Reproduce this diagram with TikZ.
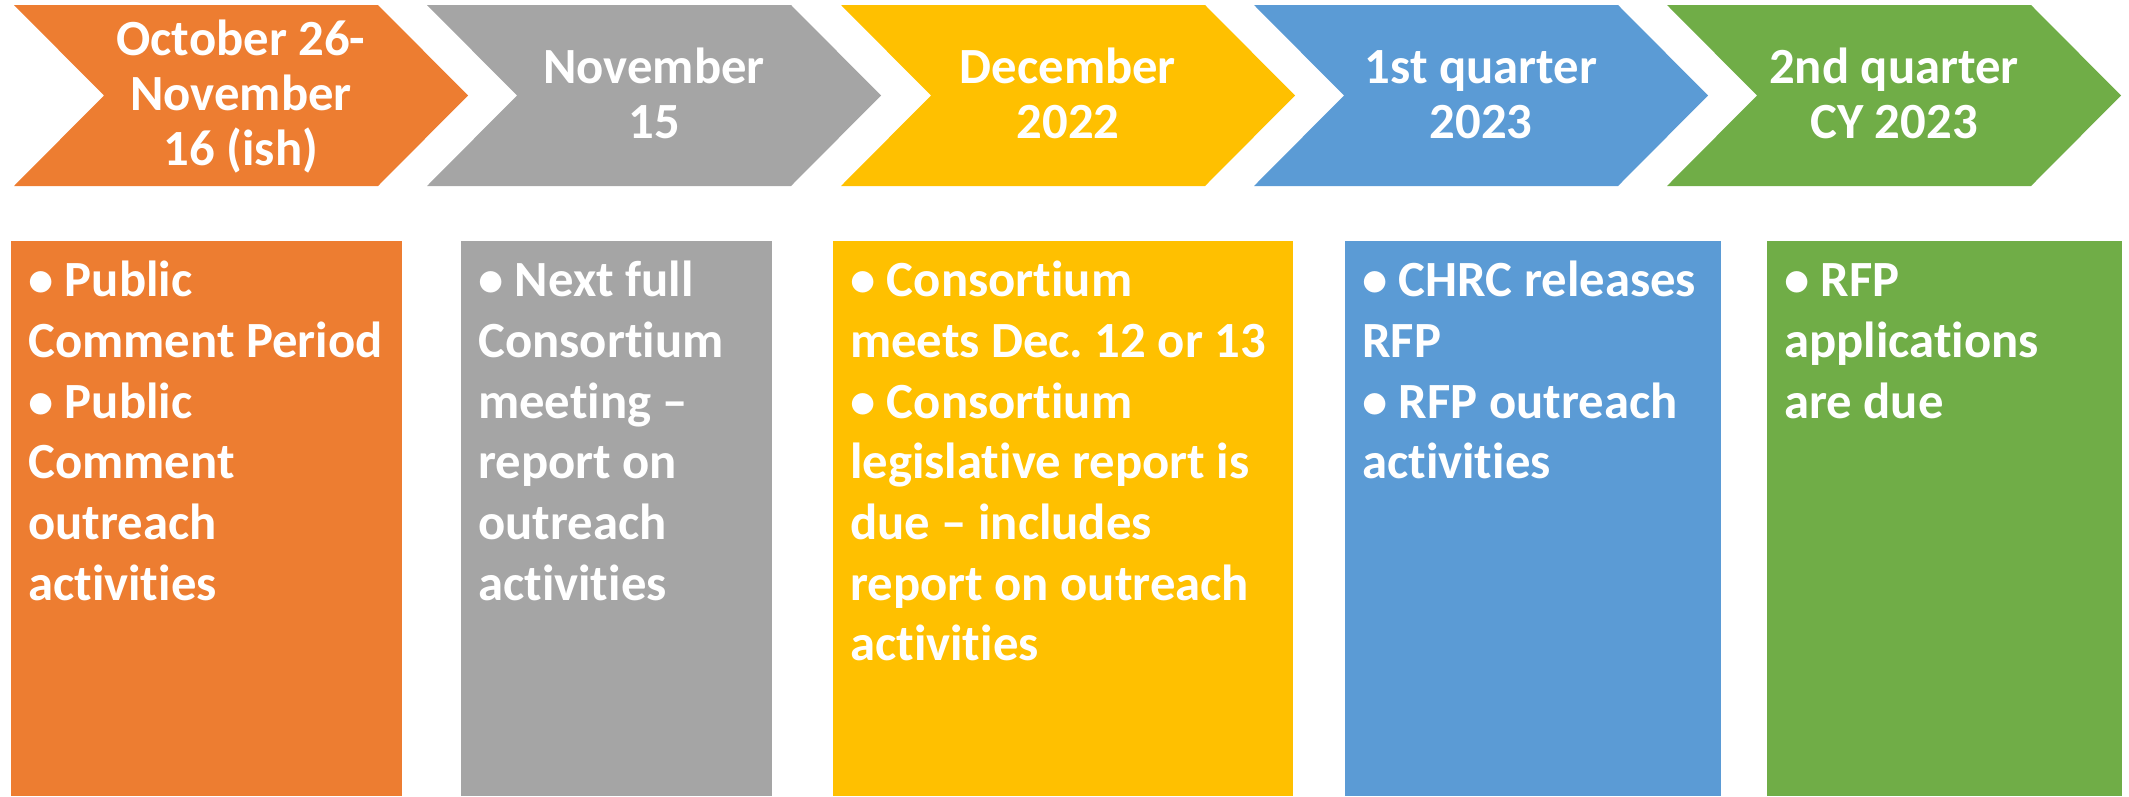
\documentclass[tikz,border=0pt]{standalone}
\usepackage{fontspec}
\setmainfont[RawFeature={-liga;-dlig;-clig}]{Carlito}
\definecolor{corange}{HTML}{ED7D31}
\definecolor{cgray}{HTML}{A5A5A5}
\definecolor{cyellow}{HTML}{FFC000}
\definecolor{cblue}{HTML}{5B9BD5}
\definecolor{cgreen}{HTML}{70AD47}
\newcommand\mychevron[2]{%
  \fill[#2] (#1,5) -- ++(364,0) -- ++(90,90.5) -- ++(-90,90.5) -- ++(-364,0) -- ++(90,-90.5) -- cycle;}
\frenchspacing
\begin{document}
\begin{tikzpicture}[x=1pt,y=-1pt,
  hdr/.style={anchor=base, inner sep=0pt, text=white, font=\fontsize{50.7}{55}\selectfont\bfseries},
  bodytxt/.style={anchor=base west, inner sep=0pt, text=white, font=\fontsize{50.7}{60.7}\selectfont\bfseries}]
\useasboundingbox (0,0) rectangle (2129,796);
% chevrons
\mychevron{14}{corange}
\mychevron{427}{cgray}
\mychevron{841}{cyellow}
\mychevron{1254}{cblue}
\mychevron{1667}{cgreen}
% boxes
\fill[corange] (11,241) rectangle (402,796);
\fill[cgray] (461,241) rectangle (772,796);
\fill[cyellow] (833,241) rectangle (1293,796);
\fill[cblue] (1345,241) rectangle (1721,796);
\fill[cgreen] (1767,241) rectangle (2122,796);
% header texts
\node[hdr] (h1) at (241,55) {\parbox[t]{420pt}{\centering October 26-\\November\\16 (ish)}};
\node[hdr] (h2) at (654,83) {\parbox[t]{420pt}{\centering November\\15}};
\node[hdr] (h3) at (1068,83) {\parbox[t]{420pt}{\centering December\\2022}};
\node[hdr] (h4) at (1481,83) {\parbox[t]{420pt}{\centering 1st quarter\\2023}};
\node[hdr] (h5) at (1894,83) {\parbox[t]{420pt}{\centering 2nd quarter\\CY 2023}};
% body texts
\node[bodytxt] (b1) at (28,296.7) {\parbox[t]{400pt}{\raggedright • Public\\Comment Period\\• Public\\Comment\\outreach\\activities}};
\node[bodytxt] (b2) at (478,296.7) {\parbox[t]{400pt}{\raggedright • Next full\\Consortium\\meeting –\\report on\\outreach\\activities}};
\node[bodytxt] (b3) at (850,296.7) {\parbox[t]{460pt}{\raggedright • Consortium\\meets Dec. 12 or 13\\• Consortium\\legislative report is\\due – includes\\report on outreach\\activities}};
\node[bodytxt] (b4) at (1362,296.7) {\parbox[t]{400pt}{\raggedright • CHRC releases\\RFP\\• RFP outreach\\activities}};
\node[bodytxt] (b5) at (1784,296.7) {\parbox[t]{400pt}{\raggedright • RFP\\applications\\are due}};
\end{tikzpicture}
\end{document}
